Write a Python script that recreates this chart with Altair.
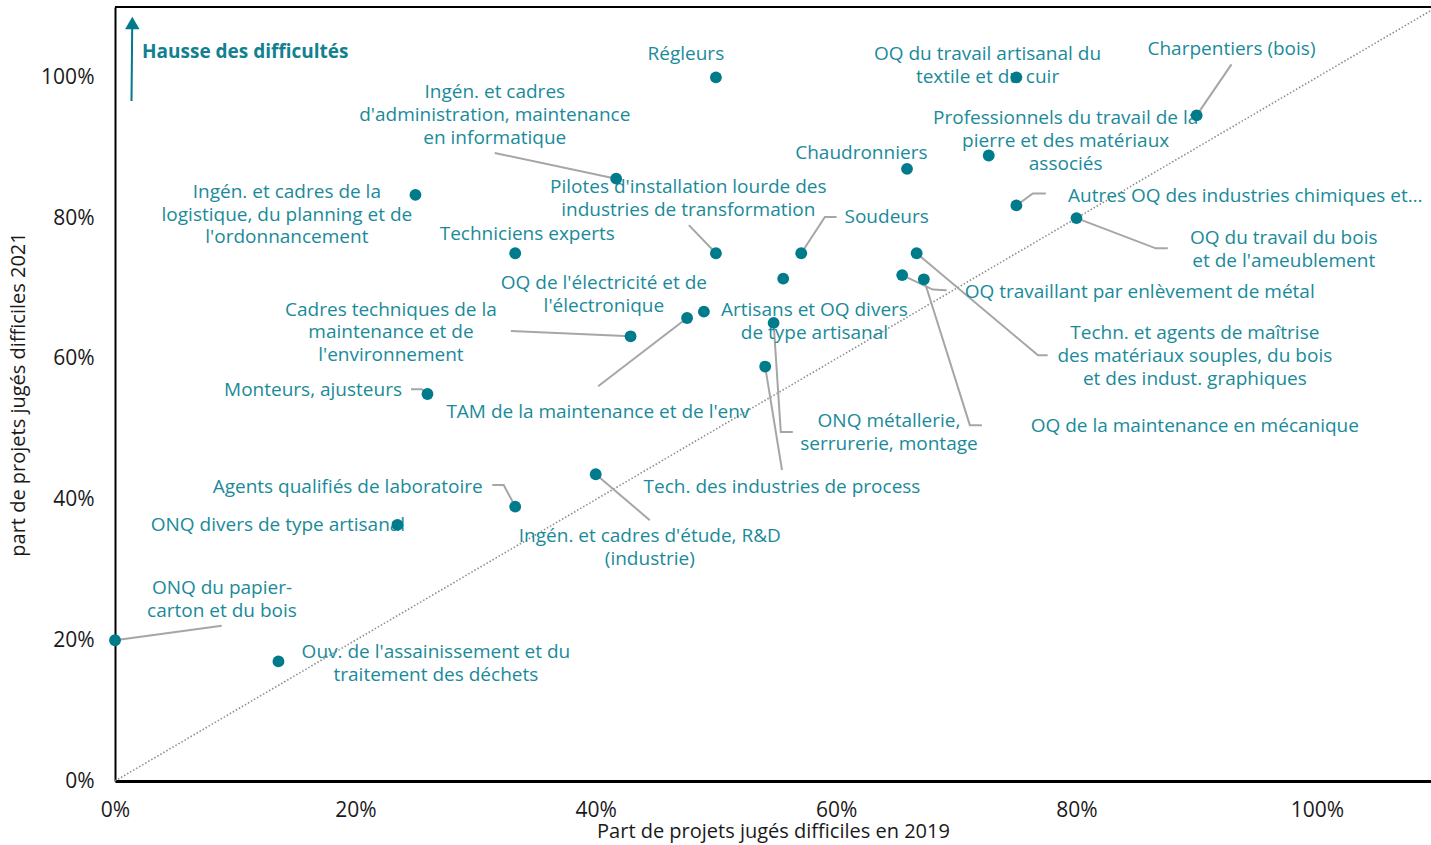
import altair as alt
import pandas as pd

# Occupations (wrapped labels) and the share of recruitment projects judged difficult
jobs = [
    "Régleurs",
    "OQ du travail artisanal du\ntextile et du cuir",
    "Charpentiers (bois)",
    "Professionnels du travail de la\npierre et des matériaux\nassociés",
    "Chaudronniers",
    "Ingén. et cadres\nd'administration, maintenance\nen informatique",
    "Ingén. et cadres de la\nlogistique, du planning et de\nl'ordonnancement",
    "Autres OQ des industries chimiques et…",
    "OQ du travail du bois\net de l'ameublement",
    "Techniciens experts",
    "Pilotes d'installation lourde des\nindustries de transformation",
    "Soudeurs",
    "Techn. et agents de maîtrise\ndes matériaux souples, du bois\net des indust. graphiques",
    "Artisans et OQ divers\nde type artisanal",
    "OQ travaillant par enlèvement de métal",
    "OQ de la maintenance en mécanique",
    "OQ de l'électricité et de\nl'électronique",
    "TAM de la maintenance et de l'env",
    "ONQ métallerie,\nserrurerie, montage",
    "Cadres techniques de la\nmaintenance et de\nl'environnement",
    "Tech. des industries de process",
    "Monteurs, ajusteurs",
    "Ingén. et cadres d'étude, R&D\n(industrie)",
    "Agents qualifiés de laboratoire",
    "ONQ divers de type artisanal",
    "ONQ du papier-\ncarton et du bois",
    "Ouv. de l'assainissement et du\ntraitement des déchets",
]

share_2019 = [0.500, 0.750, 0.900, 0.727, 0.659, 0.417, 0.250, 0.750, 0.800,
              0.333, 0.500, 0.571, 0.667, 0.556, 0.655, 0.673, 0.490, 0.476,
              0.548, 0.429, 0.541, 0.260, 0.400, 0.333, 0.235, 0.000, 0.136]

share_2021 = [1.000, 1.000, 0.946, 0.889, 0.870, 0.856, 0.833, 0.818, 0.800,
              0.750, 0.750, 0.750, 0.750, 0.714, 0.719, 0.713, 0.667, 0.658,
              0.651, 0.632, 0.589, 0.550, 0.436, 0.390, 0.364, 0.200, 0.170]

axis_ticks = [0, 0.2, 0.4, 0.6, 0.8, 1.0]

# Label placement (centre of the first line, in data units) and alignment
label_x = [0.475, 0.726, 0.929, 0.791, 0.621, 0.316, 0.143, 0.793, 0.9725,
           0.343, 0.477, 0.607, 0.8985, 0.582, 0.707, 0.8985, 0.4068, 0.4018,
           0.644, 0.2296, 0.555, 0.2388, 0.445, 0.306, 0.1356, 0.089, 0.267]
label_y = [1.033, 1.033, 1.040, 0.942, 0.892, 0.979, 0.837, 0.832, 0.771,
           0.778, 0.844, 0.801, 0.636, 0.669, 0.6946, 0.504, 0.7074, 0.524,
           0.511, 0.670, 0.4176, 0.5554, 0.348, 0.4176, 0.3636, 0.274, 0.183]
label_align = ["center", "center", "center", "center", "center", "center",
               "center", "left", "center", "center", "center", "left",
               "center", "center", "left", "center", "center", "center",
               "center", "center", "center", "right", "center", "right",
               "center", "center", "center"]

# Leader lines: bend points after the dot, keyed by occupation index
leaders = {
    2: [(0.929, 1.0185)],
    5: [(0.316, 0.8925)],
    7: [(0.7637, 0.835), (0.7745, 0.835)],
    8: [(0.866, 0.757), (0.876, 0.757)],
    10: [(0.4775, 0.790)],
    11: [(0.5907, 0.8016), (0.6004, 0.8016)],
    12: [(0.768, 0.605), (0.776, 0.605)],
    14: [(0.6805, 0.6984), (0.692, 0.6974)],
    15: [(0.7113, 0.5057), (0.7213, 0.5057)],
    17: [(0.402, 0.561)],
    18: [(0.554, 0.496), (0.564, 0.496)],
    19: [(0.3294, 0.6396)],
    20: [(0.555, 0.4418)],
    21: [(0.2552, 0.5568), (0.2463, 0.5568)],
    22: [(0.445, 0.3707)],
    23: [(0.3234, 0.4205), (0.3139, 0.4205)],
    25: [(0.0888, 0.2206)],
}

W, H = 1316, 774
X_MAX, Y_MAX = 1.095, 1.1
LINE = 22.7 * Y_MAX / H  # line spacing of wrapped labels, in data units

FONT = "Open Sans"
DOT = "#007B8B"
LABEL = "#1A8A9A"
LEADER = "#A6A6A6"

points = pd.DataFrame({"job": jobs, "x": share_2019, "y": share_2021})

text_rows = []
for i, name in enumerate(jobs):
    for j, line in enumerate(name.split("\n")):
        text_rows.append({"t": line, "x": label_x[i], "y": label_y[i] - j * LINE,
                          "align": label_align[i]})
texts = pd.DataFrame(text_rows)

leader_rows = []
for i, bends in leaders.items():
    leader_rows.append({"id": i, "o": 0, "x": share_2019[i], "y": share_2021[i]})
    for k, (bx, by) in enumerate(bends, start=1):
        leader_rows.append({"id": i, "o": k, "x": bx, "y": by})
leader_df = pd.DataFrame(leader_rows)

xs = alt.Scale(domain=[0, X_MAX], nice=False, zero=False)
ys = alt.Scale(domain=[0, Y_MAX], nice=False, zero=False)

x_axis = alt.Axis(format=".0%", values=axis_ticks, grid=False, ticks=False,
                  domainColor="black", domainWidth=3, labelFontSize=21,
                  labelColor="#1a1a1a", labelPadding=18, labelFont=FONT,
                  labelFlush=False,
                  title="Part de projets jugés difficiles en 2019",
                  titleFont=FONT, titleFontSize=20, titleFontWeight="normal",
                  titleColor="#1a1a1a", titlePadding=1)
y_axis = alt.Axis(format=".0%", values=axis_ticks, grid=False, ticks=False,
                  domainColor="black", domainWidth=2, labelFontSize=21,
                  labelColor="#1a1a1a", labelPadding=21, labelFont=FONT,
                  labelFlush=False,
                  title="part de projets jugés difficiles 2021",
                  titleFont=FONT, titleFontSize=20, titleFontWeight="normal",
                  titleColor="#1a1a1a", titlePadding=12)

# y = x reference diagonal
diag = alt.Chart(pd.DataFrame({"x": [0, Y_MAX], "y": [0, Y_MAX]})).mark_line(
    color="#8a8f94", strokeWidth=1.6, strokeDash=[1.5, 2], clip=True
).encode(x=alt.X("x:Q", scale=xs, axis=x_axis), y=alt.Y("y:Q", scale=ys, axis=y_axis))

lead = alt.Chart(leader_df).mark_line(color=LEADER, strokeWidth=2).encode(
    x=alt.X("x:Q", scale=xs), y=alt.Y("y:Q", scale=ys), detail="id:N", order="o:Q")

text_layers = []
for al in ["center", "left", "right"]:
    text_layers.append(
        alt.Chart(texts).transform_filter(alt.datum.align == al).mark_text(
            align=al, baseline="middle", font=FONT, fontSize=19, color=LABEL
        ).encode(x=alt.X("x:Q", scale=xs), y=alt.Y("y:Q", scale=ys), text="t:N")
    )

dots = alt.Chart(points).mark_circle(size=140, color=DOT, opacity=1).encode(
    x=alt.X("x:Q", scale=xs), y=alt.Y("y:Q", scale=ys), tooltip=["job:N"])

# frame top edge
top_edge = alt.Chart(pd.DataFrame({"a": [0]})).mark_rule(color="black", strokeWidth=2).encode(
    x=alt.value(0), x2=alt.value(W), y=alt.value(0))

# "rising difficulty" arrow and caption
arrow_shaft = alt.Chart(pd.DataFrame({"a": [0]})).mark_rule(color=DOT, strokeWidth=2).encode(
    x=alt.value(16.5), x2=alt.value(17.2), y=alt.value(94), y2=alt.value(20))
arrow_head = alt.Chart(pd.DataFrame({"a": [0]})).mark_point(
    shape="triangle-up", filled=True, size=210, color=DOT, opacity=1
).encode(x=alt.value(17.3), y=alt.value(16))
caption = alt.Chart(pd.DataFrame({"t": ["Hausse des difficultés"]})).mark_text(
    align="left", baseline="middle", font=FONT, fontSize=19, fontWeight="bold", color="#11808F"
).encode(x=alt.value(27), y=alt.value(45), text="t:N")

chart = alt.layer(
    diag, lead, *text_layers, dots, top_edge, arrow_shaft, arrow_head, caption
).properties(
    width=W, height=H,
    autosize=alt.AutoSizeParams(type="none"),
    padding={"left": 115, "top": 7, "right": 0, "bottom": 64},
).configure_view(stroke=None).configure(background="white")

chart.save("out.html", embed_options={"renderer": "svg", "actions": False})
